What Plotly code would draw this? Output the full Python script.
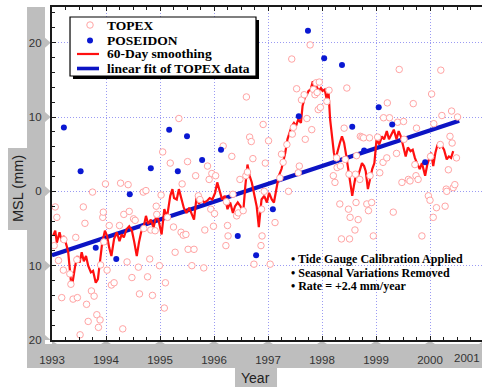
import plotly.graph_objects as go

# ---------------------------------------------------------------- data
# TOPEX 10-day sea level anomalies (year, mm)
topex_year = [
    1993.04, 1993.06, 1993.09, 1993.12, 1993.18, 1993.21, 1993.22, 1993.33, 1993.35, 1993.39,
    1993.44, 1993.46, 1993.47, 1993.52, 1993.58, 1993.61, 1993.64, 1993.67, 1993.73, 1993.75,
    1993.78, 1993.83, 1993.86, 1993.89, 1993.90, 1993.94, 1993.95, 1993.96, 1993.99, 1994.02,
    1994.06, 1994.10, 1994.15, 1994.25, 1994.27, 1994.31, 1994.33, 1994.39, 1994.41, 1994.43,
    1994.48, 1994.51, 1994.54, 1994.60, 1994.62, 1994.69, 1994.70, 1994.74, 1994.77, 1994.81,
    1994.83, 1994.86, 1994.91, 1994.93, 1994.94, 1994.99, 1995.02, 1995.05, 1995.08, 1995.10,
    1995.14, 1995.19, 1995.25, 1995.28, 1995.35, 1995.39, 1995.41, 1995.43, 1995.48, 1995.51,
    1995.52, 1995.59, 1995.63, 1995.66, 1995.71, 1995.74, 1995.81, 1995.83, 1995.88, 1995.91,
    1995.94, 1995.96, 1995.99, 1996.01, 1996.03, 1996.17, 1996.22, 1996.23, 1996.25, 1996.26,
    1996.33, 1996.35, 1996.42, 1996.45, 1996.48, 1996.54, 1996.59, 1996.60, 1996.62, 1996.66,
    1996.69, 1996.72, 1996.74, 1996.87, 1996.88, 1996.89, 1996.91, 1996.93, 1996.95, 1997.01,
    1997.04, 1997.13, 1997.22, 1997.25, 1997.28, 1997.35, 1997.38, 1997.44, 1997.45, 1997.47,
    1997.53, 1997.56, 1997.58, 1997.62, 1997.67, 1997.69, 1997.72, 1997.78, 1997.81, 1997.84,
    1997.87, 1997.89, 1997.91, 1997.93, 1997.95, 1997.97, 1998.09, 1998.13, 1998.21, 1998.24,
    1998.27, 1998.28, 1998.33, 1998.34, 1998.36, 1998.41, 1998.43, 1998.46, 1998.49, 1998.50,
    1998.51, 1998.52, 1998.61, 1998.62, 1998.63, 1998.64, 1998.67, 1998.70, 1998.71, 1998.74,
    1998.77, 1998.83, 1998.86, 1998.88, 1998.89, 1998.92, 1998.95, 1999.03, 1999.07, 1999.13,
    1999.14, 1999.20, 1999.21, 1999.25, 1999.32, 1999.38, 1999.40, 1999.43, 1999.48, 1999.51,
    1999.52, 1999.60, 1999.63, 1999.69, 1999.72, 1999.74, 1999.75, 1999.78, 1999.85, 1999.97,
    2000.00, 2000.01, 2000.03, 2000.06, 2000.07, 2000.12, 2000.19, 2000.20, 2000.22, 2000.28,
    2000.30, 2000.31, 2000.34, 2000.37, 2000.40, 2000.41, 2000.43, 2000.46, 2000.49, 2000.51,
]
topex_mm = [
    -7.3, -2.1, -3.5, -9.3, -14.3, -10.6, -6.5, -11.1, -12.5, -14.5,
    -6.2, -9.2, -14.3, -19.3, -2.1, -4.3, -15.2, -17.5, -13.4, -0.1,
    -14.1, -16.6, -18.3, -17.3, -9.9, -3.5, -2.8, -6.8, 1.0, -10.6,
    -4.6, -12.6, -12.3, -4.6, 1.1, -18.5, -3.1, -9.5, 0.9, -2.7,
    -11.6, -3.7, -3.9, -10.2, -13.8, -0.1, -5.0, 0.1, -11.5, -9.1,
    -5.2, -14.0, -5.3, -2.0, -3.1, -10.0, -0.5, 5.3, -15.7, -12.3,
    -3.5, 3.8, -4.8, -8.2, 9.8, -5.5, 1.0, -5.9, -5.8, 4.0,
    -7.8, -10.0, -7.8, 2.1, -0.6, -1.1, -10.3, -5.2, 3.4, 1.6,
    -2.4, 2.4, -4.7, -3.0, 2.1, 6.1, -7.3, -1.4, -4.6, -6.0,
    4.7, -0.4, -3.3, -2.9, 1.6, -2.6, 2.1, 12.7, 2.6, 7.3,
    6.7, 4.4, -9.8, -7.3, -2.4, -6.0, 9.0, 0.0, 3.8, 6.8,
    -9.8, -4.2, 1.8, 5.0, 3.9, 6.3, 0.0, 17.8, 7.7, 8.6,
    13.8, 2.5, 3.4, 12.3, 13.0, 7.0, 9.8, 19.7, 8.3, 13.7,
    13.0, 14.6, 13.3, 11.0, 14.7, 11.3, 12.1, 13.6, 2.1, 1.2,
    4.5, 3.2, -1.7, 3.4, -6.4, 8.5, 4.3, 13.9, -2.4, 2.3,
    -6.4, -3.5, -5.2, 2.3, -1.5, 4.8, -3.8, 1.6, 7.4, 7.3,
    7.2, -1.7, -2.6, 7.2, 2.1, -1.5, -6.0, 7.3, 2.5, 3.9,
    9.9, 4.5, 11.9, 9.9, -2.8, 5.1, 9.3, 16.4, 1.2, 9.4,
    7.0, 1.6, 1.4, 11.8, 3.6, 2.1, 8.5, 1.6, -6.0, -0.6,
    -1.2, 4.7, 13.1, -3.5, 9.1, -2.2, 6.3, 16.3, 10.2, -2.0,
    0.3, 0.0, 2.9, 7.4, 10.8, 6.5, 0.5, 0.9, 4.5, 10.0,
]

# POSEIDON cycles (year, mm)
poseidon_year = [
    1993.22, 1993.53, 1993.81, 1994.19, 1994.44, 1994.83, 1995.17, 1995.33, 1995.50, 1995.78,
    1996.13, 1996.44, 1996.78, 1997.09, 1997.57, 1997.74, 1998.04, 1998.37, 1998.56, 1998.78,
    1999.05, 1999.30, 1999.91,
]
poseidon_mm = [
    8.6, 2.7, -7.6, -9.1, -0.4, 3.1, 8.3, 2.7, 7.4, 4.2,
    5.6, -6.0, -8.6, -2.4, 10.1, 21.6, 17.9, 17.0, 8.7, 5.5,
    11.3, 9.0, 3.9,
]

# 60-day running mean of the TOPEX series (year, mm)
smooth_year = [
    1993.02, 1993.06, 1993.09, 1993.14, 1993.18, 1993.22, 1993.27, 1993.30, 1993.35, 1993.38,
    1993.43, 1993.47, 1993.51, 1993.55, 1993.59, 1993.63, 1993.67, 1993.72, 1993.76, 1993.81,
    1993.85, 1993.89, 1993.93, 1993.98, 1994.02, 1994.06, 1994.10, 1994.15, 1994.20, 1994.25,
    1994.29, 1994.33, 1994.38, 1994.43, 1994.48, 1994.52, 1994.57, 1994.61, 1994.65, 1994.70,
    1994.74, 1994.78, 1994.83, 1994.88, 1994.93, 1994.97, 1995.03, 1995.08, 1995.13, 1995.19,
    1995.23, 1995.26, 1995.31, 1995.35, 1995.40, 1995.44, 1995.49, 1995.54, 1995.59, 1995.63,
    1995.68, 1995.72, 1995.77, 1995.82, 1995.87, 1995.92, 1995.97, 1996.02, 1996.06, 1996.11,
    1996.15, 1996.20, 1996.25, 1996.30, 1996.35, 1996.39, 1996.44, 1996.49, 1996.54, 1996.58,
    1996.62, 1996.66, 1996.70, 1996.75, 1996.79, 1996.83, 1996.88, 1996.93, 1996.98, 1997.02,
    1997.07, 1997.11, 1997.16, 1997.20, 1997.25, 1997.28, 1997.32, 1997.36, 1997.39, 1997.44,
    1997.48, 1997.52, 1997.56, 1997.61, 1997.64, 1997.68, 1997.72, 1997.75, 1997.79, 1997.83,
    1997.86, 1997.90, 1997.94, 1997.98, 1998.01, 1998.05, 1998.09, 1998.12, 1998.15, 1998.19,
    1998.22, 1998.25, 1998.29, 1998.33, 1998.37, 1998.41, 1998.44, 1998.48, 1998.52, 1998.56,
    1998.59, 1998.63, 1998.67, 1998.70, 1998.74, 1998.78, 1998.81, 1998.85, 1998.89, 1998.93,
    1998.97, 1999.01, 1999.06, 1999.11, 1999.15, 1999.20, 1999.24, 1999.29, 1999.33, 1999.38,
    1999.42, 1999.46, 1999.51, 1999.55, 1999.59, 1999.64, 1999.68, 1999.72, 1999.77, 1999.81,
    1999.85, 1999.88, 1999.91, 1999.95, 1999.99, 2000.02, 2000.06, 2000.10, 2000.14, 2000.18,
    2000.22, 2000.26, 2000.31, 2000.35, 2000.39, 2000.43,
]
smooth_mm = [
    -6.0, -5.3, -6.9, -5.5, -6.7, -6.0, -7.3, -8.2, -12.0, -12.3,
    -10.0, -8.7, -9.6, -8.2, -9.4, -8.7, -10.0, -10.9, -10.7, -12.3,
    -11.8, -9.6, -6.9, -5.3, -6.0, -7.6, -8.7, -6.4, -5.5, -6.7,
    -5.8, -6.2, -5.1, -4.7, -5.3, -6.7, -8.7, -6.9, -5.5, -4.7,
    -3.3, -4.4, -3.8, -4.9, -3.3, -3.8, -5.8, -2.4, -3.5, -0.6,
    0.3, -0.9, -1.1, 0.3, -1.1, -2.2, -2.9, -2.2, -3.1, -3.8,
    -0.6, -1.7, -1.1, -1.5, -1.3, -0.9, -1.1, -0.2, 1.2, 0.0,
    -1.1, -0.6, -2.4, -1.5, -2.9, -2.0, -1.5, -2.0, -2.9, 0.7,
    3.6, 2.1, 1.2, -0.6, -2.0, -4.8, -1.1, -0.6, -1.5, -0.2,
    -1.1, -1.5, 0.7, 2.1, 3.0, 3.8, 5.2, 7.0, 7.7, 8.8,
    9.2, 8.8, 9.7, 9.2, 11.5, 12.6, 13.0, 13.5, 13.7, 14.8,
    13.7, 14.1, 13.5, 13.9, 13.5, 13.7, 12.3, 13.5, 9.7, 7.0,
    5.2, 4.3, 5.6, 6.5, 7.4, 6.5, 5.2, 3.4, 1.6, -0.6,
    0.7, 2.3, 2.1, 3.0, 3.8, 3.4, 2.7, 0.3, 1.6, 3.0,
    3.8, 7.0, 6.3, 7.4, 7.0, 8.1, 7.0, 7.7, 8.3, 7.0,
    8.1, 7.4, 5.9, 4.7, 5.9, 5.4, 5.6, 4.5, 3.6, 3.0,
    3.8, 2.7, 2.1, 3.6, 4.7, 5.2, 3.4, 5.2, 6.3, 5.9,
    6.1, 5.6, 4.3, 4.7, 4.5, 5.4,
]

# linear fit of TOPEX data: start level and rate
fit_year = [1993.0, 2000.54]
fit_start_mm = -8.6
fit_rate_mm_per_year = 2.4
fit_mm = [fit_start_mm + fit_rate_mm_per_year * (t - fit_year[0]) for t in fit_year]

x_ticks = [1993, 1994, 1995, 1996, 1997, 1998, 1999, 2000]
x_last_label = "2001"
y_ticks = [-20, -10, 0, 10, 20]
y_tick_text = ["20", "10", "0", "10", "20"]

legend_labels = ["TOPEX", "POSEIDON", "60-Day smoothing", "linear fit of TOPEX data"]
notes = [
    "• Tide Gauge Calibration Applied",
    "• Seasonal Variations Removed",
    "• Rate = +2.4 mm/year",
]

# ---------------------------------------------------------------- styles
TOPEX_LINE = "#ffa4a4"
POSEIDON_BLUE = "#0a18d2"
SMOOTH_RED = "#ff1010"
FIT_BLUE = "#0c14c4"
BAND_GRAY = "#bebebe"
SERIF = "Liberation Serif, Times New Roman, serif"
SANS = "Liberation Sans, Arial, Helvetica, sans-serif"
GRID = "rgba(130,130,240,0.8)"

X_RANGE = [1993.0, 1993.0 + 430 / 54]
Y_RANGE = [-20.0, 24.8]

fig = go.Figure()

fig.add_trace(go.Scatter(
    x=fit_year, y=fit_mm, mode="lines", name=legend_labels[3],
    line=dict(color=FIT_BLUE, width=4.2), showlegend=False, hoverinfo="skip"))
fig.add_trace(go.Scatter(
    x=smooth_year, y=smooth_mm, mode="lines", name=legend_labels[2],
    line=dict(color=SMOOTH_RED, width=2.2), showlegend=False, hoverinfo="skip"))
fig.add_trace(go.Scatter(
    x=topex_year, y=topex_mm, mode="markers", name=legend_labels[0],
    marker=dict(symbol="circle", size=6.5, color="white",
                line=dict(color=TOPEX_LINE, width=1)),
    showlegend=False, hoverinfo="skip"))
fig.add_trace(go.Scatter(
    x=poseidon_year, y=poseidon_mm, mode="markers", name=legend_labels[1],
    marker=dict(symbol="circle", size=6, color=POSEIDON_BLUE, line=dict(width=0)),
    showlegend=False, hoverinfo="skip"))

# ---------------------------------------------------------------- frame decoration
shapes = []

def rect(x0, y0, x1, y1, color, layer="below", line=None):
    return dict(type="rect", xref="paper", yref="paper", x0=x0, y0=y0, x1=x1, y1=y1,
                fillcolor=color, line=line or dict(width=0), layer=layer)

# gray label bands along the left and bottom axes
shapes.append(rect(-0.0581, -0.0841, -0.0163, 1.0, BAND_GRAY))
shapes.append(rect(-0.0581, -0.0841, 1.01, -0.012, BAND_GRAY))
shapes.append(rect(-0.1023, 0.3303, -0.0575, 0.5766, BAND_GRAY))
shapes.append(rect(0.4256, -0.1420, 0.5233, -0.0835, BAND_GRAY))

# small pointers joining the bands to the tick positions
half_w = 5 / 54
for t in x_ticks + [2001]:
    shapes.append(dict(type="path", xref="x", yref="paper", layer="below",
                       path=f"M {t - half_w},-0.012 L {t},-0.002 L {t + half_w},-0.012 Z",
                       fillcolor=BAND_GRAY, line=dict(width=0)))
half_h = 5 * (Y_RANGE[1] - Y_RANGE[0]) / 333
for v in y_ticks:
    shapes.append(dict(type="path", xref="paper", yref="y", layer="below",
                       path=f"M -0.0163,{v - half_h} L -0.003,{v} L -0.0163,{v + half_h} Z",
                       fillcolor=BAND_GRAY, line=dict(width=0)))

# key box: drop shadow, then white panel with thin border
shapes.append(rect(0.0488, 0.7838, 0.4814, 0.9610, "black", layer="above"))
shapes.append(rect(0.0419, 0.7928, 0.4744, 0.9700, "white", layer="above",
                   line=dict(color="black", width=1.2)))

key_rows = [0.9459, 0.8994, 0.8589, 0.8153]
key_x = 0.0884
key_line = (0.0581, 0.1093)

def key_dot(y, size, fill, outline, width):
    r = size / 2
    return dict(type="circle", xref="paper", yref="paper", layer="above",
                xsizemode="pixel", ysizemode="pixel", xanchor=key_x, yanchor=y,
                x0=-r, x1=r, y0=-r, y1=r, fillcolor=fill,
                line=dict(color=outline, width=width))

shapes.append(key_dot(key_rows[0], 6.5, "white", TOPEX_LINE, 1))
shapes.append(key_dot(key_rows[1], 6, POSEIDON_BLUE, POSEIDON_BLUE, 0))
shapes.append(dict(type="line", xref="paper", yref="paper", layer="above",
                   x0=key_line[0], x1=key_line[1], y0=key_rows[2], y1=key_rows[2],
                   line=dict(color=SMOOTH_RED, width=2.2)))
shapes.append(dict(type="line", xref="paper", yref="paper", layer="above",
                   x0=key_line[0], x1=key_line[1], y0=key_rows[3], y1=key_rows[3],
                   line=dict(color=FIT_BLUE, width=3.6)))

annotations = []
for label, y in zip(legend_labels, key_rows):
    annotations.append(dict(xref="paper", yref="paper", x=0.1233, y=y, xanchor="left",
                            yanchor="middle", showarrow=False, text=f"<b>{label}</b>",
                            font=dict(family=SERIF, size=13.5, color="black")))

for note, y in zip(notes, [0.2432, 0.2012, 0.1622]):
    annotations.append(dict(xref="paper", yref="paper", x=0.5512, y=y, xanchor="left",
                            yanchor="middle", showarrow=False, text=f"<b>{note}</b>",
                            font=dict(family=SERIF, size=12, color="black")))

annotations.append(dict(xref="paper", yref="paper", x=-0.0791, y=0.4565, textangle=-90,
                        xanchor="center", yanchor="middle", showarrow=False, text="MSL (mm)",
                        font=dict(family=SANS, size=14.5, color="#222222")))
annotations.append(dict(xref="paper", yref="paper", x=0.4744, y=-0.1141,
                        xanchor="center", yanchor="middle", showarrow=False, text="Year",
                        font=dict(family=SANS, size=14, color="#222222")))
annotations.append(dict(xref="paper", yref="paper", x=1.0, y=-0.054, xanchor="right",
                        yanchor="middle", showarrow=False, text=x_last_label,
                        font=dict(family=SANS, size=11.5, color="#333333")))

fig.update_layout(
    width=482, height=387,
    margin=dict(l=52, r=0, t=7, b=47),
    paper_bgcolor="white", plot_bgcolor="white",
    showlegend=False,
    shapes=shapes, annotations=annotations,
    xaxis=dict(
        range=X_RANGE, tickvals=x_ticks, ticktext=[str(t) for t in x_ticks],
        showgrid=True, gridcolor=GRID, gridwidth=1, griddash="1px,2px", zeroline=False,
        showline=True, linecolor="#1a1a1a", linewidth=2.4, mirror="ticks",
        ticks="inside", ticklen=4, tickcolor="#1a1a1a", tickwidth=1,
        minor=dict(dtick=0.25, ticks="inside", ticklen=3, tickcolor="#1a1a1a", showgrid=False),
        tickfont=dict(family=SANS, size=11.5, color="#333333"),
        ticklabelstandoff=8,
    ),
    yaxis=dict(
        range=Y_RANGE, tickvals=y_ticks, ticktext=y_tick_text,
        showgrid=True, gridcolor=GRID, gridwidth=1, griddash="1px,2px", zeroline=False,
        showline=True, linecolor="#1a1a1a", linewidth=2.2, mirror=False,
        ticks="inside", ticklen=4, tickcolor="#1a1a1a", tickwidth=1,
        minor=dict(dtick=2, ticks="inside", ticklen=3, tickcolor="#1a1a1a", showgrid=False),
        tickfont=dict(family=SANS, size=11.5, color="#333333"),
        ticklabelstandoff=6,
    ),
)

fig.write_html("out.html")
